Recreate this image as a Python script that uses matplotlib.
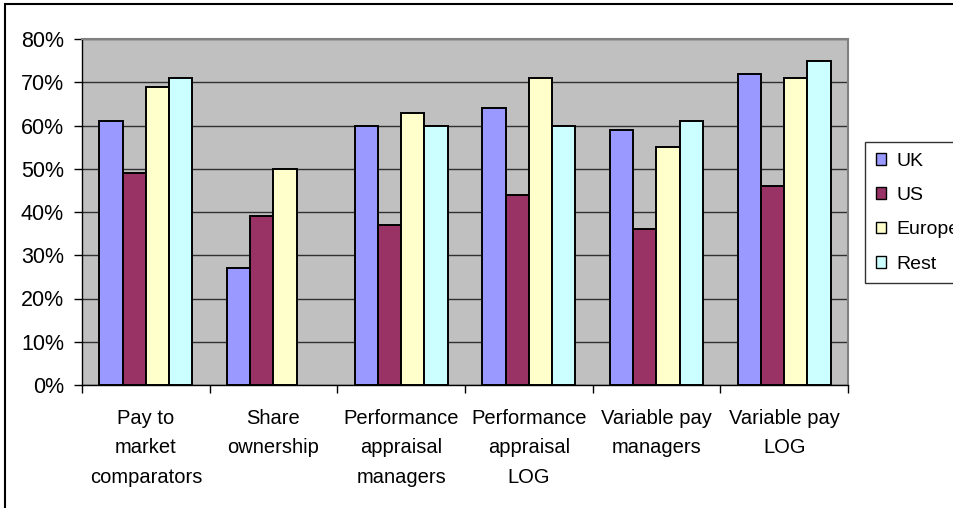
import numpy as np
import matplotlib
matplotlib.use("Agg")
import matplotlib.pyplot as plt
from matplotlib.patches import Rectangle, Patch

plt.rcParams['font.family'] = ['Liberation Sans', 'DejaVu Sans']

categories = [
    "Pay to\nmarket\ncomparators",
    "Share\nownership",
    "Performance\nappraisal\nmanagers",
    "Performance\nappraisal\nLOG",
    "Variable pay\nmanagers",
    "Variable pay\nLOG",
]
series_names = ["UK", "US", "Europe", "Rest"]
uk = [61, 27, 60, 64, 59, 72]
us = [49, 39, 37, 44, 36, 46]
europe = [69, 50, 63, 71, 55, 71]
rest = [71, np.nan, 60, 60, 61, 75]
y_ticks = [0, 10, 20, 30, 40, 50, 60, 70, 80]
colors = ["#9999FF", "#993366", "#FFFFCC", "#CCFFFF"]

W, H = 954, 508
fig = plt.figure(figsize=(W / 100, H / 100), dpi=100)
fig.patch.set_facecolor("white")

# outer chart frame
fig.patches.append(Rectangle((5 / W, -0.2), 2.0, 1 - 4 / H + 0.2,
                             transform=fig.transFigure, fill=False,
                             edgecolor="black", linewidth=1.5, clip_on=False))

left, right, top, bottom = 82, 848, 39, 385
ax = fig.add_axes([left / W, 1 - bottom / H, (right - left) / W, (bottom - top) / H])
ax.set_facecolor("#C0C0C0")

n = len(categories)
x = np.arange(n)
bw = 0.1815
data = [uk, us, europe, rest]
for i, (vals, c) in enumerate(zip(data, colors)):
    ax.bar(x + (i - 1.5) * bw, vals, width=bw, color=c, edgecolor="black",
           linewidth=1.4, zorder=3, label=series_names[i])

ax.set_xlim(-0.5, n - 0.5)
ax.set_ylim(0, 80)
ax.set_yticks(y_ticks)
ax.set_yticklabels([f"{v}%" for v in y_ticks])
ax.yaxis.grid(True, color="#303030", linewidth=1.0, zorder=0)
ax.set_axisbelow(True)

ax.set_xticks(np.arange(n + 1) - 0.5)
ax.set_xticklabels([])
ax.set_xticks(x, minor=True)
ax.set_xticklabels(categories, minor=True, fontsize=14.5, linespacing=1.72)
ax.tick_params(axis="x", which="major", direction="out", length=6, width=1, color="black")
ax.tick_params(axis="x", which="minor", length=0, pad=17)
ax.tick_params(axis="y", direction="out", length=6, width=1, labelsize=15.5, pad=7)

for s in ["left", "bottom"]:
    ax.spines[s].set_color("black")
    ax.spines[s].set_linewidth(1.0)
for s in ["top", "right"]:
    ax.spines[s].set_color("#808080")
    ax.spines[s].set_linewidth(1.5)

handles = [Patch(facecolor=c, edgecolor="black", linewidth=1.0) for c in colors]
leg = fig.legend(handles, series_names, loc="upper left",
                 bbox_to_anchor=(865 / W, 1 - 142 / H), fontsize=14,
                 frameon=True, fancybox=False, shadow=False,
                 handlelength=0.55, handleheight=0.55, handletextpad=0.5,
                 labelspacing=0.89, borderpad=0.55, borderaxespad=0)
leg.get_frame().set_edgecolor("black")
leg.get_frame().set_linewidth(1.0)

fig.savefig("out.png", dpi=100)
